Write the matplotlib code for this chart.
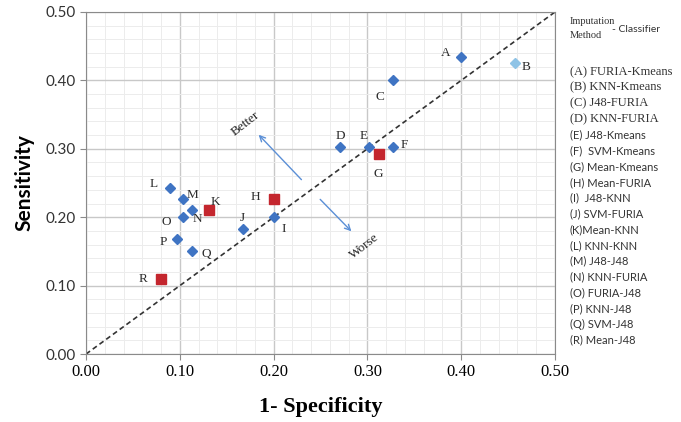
import numpy as np
import matplotlib
matplotlib.use('Agg')
import matplotlib.pyplot as plt
from matplotlib.ticker import MultipleLocator

# data
labels = ['A', 'B', 'C', 'D', 'E', 'F', 'G', 'H', 'I',
          'J', 'K', 'L', 'M', 'N', 'O', 'P', 'Q', 'R']
fpr = [0.400, 0.457, 0.327, 0.271, 0.302, 0.327, 0.312, 0.200, 0.200,
       0.167, 0.131, 0.090, 0.103, 0.113, 0.103, 0.097, 0.113, 0.080]
tpr = [0.434, 0.425, 0.400, 0.302, 0.302, 0.302, 0.292, 0.226, 0.201,
       0.183, 0.210, 0.243, 0.226, 0.210, 0.201, 0.168, 0.151, 0.109]
kind = ['d', 'b', 'd', 'd', 'd', 'd', 's', 's', 'd',
        'd', 's', 'd', 'd', 'd', 'd', 'd', 'd', 's']
ticks = [0.0, 0.1, 0.2, 0.3, 0.4, 0.5]
tick_labels = ['0.00', '0.10', '0.20', '0.30', '0.40', '0.50']
legend_items = ['(A) FURIA-Kmeans', '(B) KNN-Kmeans', '(C) J48-FURIA',
                '(D) KNN-FURIA', '(E) J48-Kmeans', '(F)  SVM-Kmeans',
                '(G) Mean-Kmeans', '(H) Mean-FURIA', '(I)  J48-KNN',
                '(J) SVM-FURIA', '(K)Mean-KNN', '(L) KNN-KNN', '(M) J48-J48',
                '(N) KNN-FURIA', '(O) FURIA-J48', '(P) KNN-J48',
                '(Q) SVM-J48', '(R) Mean-J48']

# label offsets in points (dx, dy)
offs = {'A': (-11, 3), 'B': (8, -3), 'C': (-9, -12), 'D': (0, 8),
        'E': (-4, 8), 'F': (8, 2), 'G': (0, -14), 'H': (-13, 2),
        'I': (7, -9), 'J': (0, 8), 'K': (5, 6), 'L': (-12, 3),
        'M': (7, 3), 'N': (4, -6), 'O': (-12, -4), 'P': (-10, -2),
        'Q': (10, -2), 'R': (-13, 0)}

blue = '#3f74c3'
lblue = '#8ec3e6'
red = '#c4262e'

fig = plt.figure(figsize=(6.81, 4.22), dpi=100)
ax = fig.add_axes([0.1263, 0.161, 0.6887, 0.8106])

ax.set_xlim(0, 0.5)
ax.set_ylim(0, 0.5)
ax.set_xticks(ticks)
ax.set_yticks(ticks)
ax.xaxis.set_minor_locator(MultipleLocator(0.02))
ax.yaxis.set_minor_locator(MultipleLocator(0.02))
ax.grid(which='major', color='#c8c8c8', linewidth=1.0)
ax.grid(which='minor', color='#ececec', linewidth=0.7)
ax.set_axisbelow(True)
for s in ax.spines.values():
    s.set_color('#8a8a8a')
ax.tick_params(which='minor', length=0)
ax.tick_params(which='major', length=4, color='#8a8a8a', direction='out')

ax.plot([0, 0.5], [0, 0.5], '--', color='#333333', linewidth=1.2, dashes=(3, 2))

for lab, x, y, k in zip(labels, fpr, tpr, kind):
    if k == 's':
        ax.plot(x, y, 's', color=red, markersize=6.5, zorder=3)
    elif k == 'b':
        ax.plot(x, y, 'D', color=lblue, markersize=5.5, zorder=3)
    else:
        ax.plot(x, y, 'D', color=blue, markersize=5.5, zorder=3)
    dx, dy = offs[lab]
    ax.annotate(lab, (x, y), xytext=(dx, dy), textcoords='offset points',
                ha='center', va='center', fontsize=9.5, family='Liberation Serif',
                color='#2a2a2a')

# better / worse arrows
ax.annotate('', xy=(0.182, 0.3235), xytext=(0.2317, 0.252),
            arrowprops=dict(arrowstyle='->', color='#5b8fd6', lw=1.0))
ax.annotate('', xy=(0.285, 0.1765), xytext=(0.2476, 0.229),
            arrowprops=dict(arrowstyle='->', color='#5b8fd6', lw=1.0))
ax.text(0.170, 0.336, 'Better', rotation=38, ha='center', va='center',
        fontsize=9.5, family='Liberation Serif', color='#222222')
ax.text(0.297, 0.157, 'Worse', rotation=38, ha='center', va='center',
        fontsize=9.5, family='Liberation Serif', color='#222222')

ax.set_xticklabels(tick_labels, family='Liberation Serif', fontsize=12)
ax.set_yticklabels(tick_labels, family='Lato', fontsize=11, color='#333333')
ax.set_xlabel('1- Specificity', family='Liberation Serif', fontweight='bold',
              fontsize=16, labelpad=12)
ax.set_ylabel('Sensitivity', family='Lato', fontweight='bold',
              fontsize=15, labelpad=8)

# side legend
fig.text(570 / 681, 1 - 22 / 422, 'Imputation', family='Liberation Serif',
         fontsize=7.5, va='center', color='#333333')
fig.text(570 / 681, 1 - 36 / 422, 'Method', family='Liberation Serif',
         fontsize=7.5, va='center', color='#333333')
fig.text(612 / 681, 1 - 29 / 422, '- Classifier', family='Lato',
         fontsize=7.5, va='center', color='#333333')
for i, item in enumerate(legend_items):
    fam = 'Liberation Serif' if i < 4 else 'Lato'
    fs = 9 if i < 4 else 8
    fig.text(570 / 681, 1 - (72 + i * 15.76) / 422, item, family=fam,
             fontsize=fs, va='center', color='#333333')

fig.savefig('out.png', dpi=100)
